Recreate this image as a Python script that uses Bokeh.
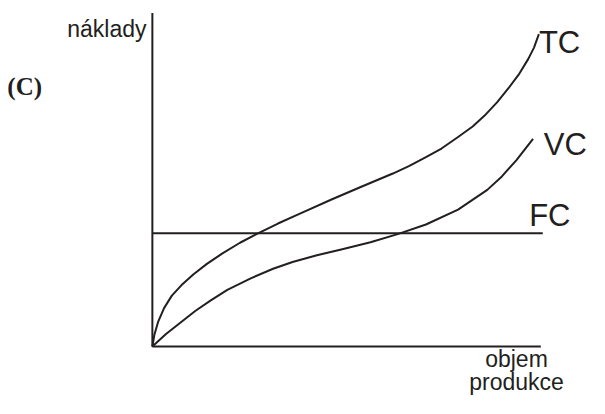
from bokeh.plotting import figure
from bokeh.models import Range1d, Label
from bokeh.embed import file_html
from bokeh.resources import INLINE

# Schematic cost curves (units: arbitrary)
tc_x = [0, 2, 6, 12, 20, 30, 42, 56, 72, 90, 109, 129, 151, 184, 214, 247, 264, 281, 297, 314, 329, 341, 354, 366, 377, 386, 392, 397]
tc_y = [0, 12, 26, 40, 53, 64, 75, 86, 97, 108, 118, 128, 138, 153, 166, 180, 188, 197, 206, 218, 229, 240, 254, 269, 284, 299, 311, 325]

vc_x = [0, 14, 29, 44, 60, 77, 101, 124, 144, 169, 194, 224, 252, 281, 314, 344, 359, 374, 391]
vc_y = [0, 13, 25, 37, 48, 59, 71, 81, 88, 95, 101, 108.5, 117, 127, 142.5, 163, 177, 194, 216]

fc_x = [0, 401]
fc_level = 118

x_axis_end = 399
y_axis_end = 347

labels_text = ["TC", "VC", "FC"]
y_label = "náklady"
x_label_lines = ["objem", "produkce"]
panel_tag = "(C)"

ink = "#231f20"

p = figure(width=589, height=398, output_backend="svg", toolbar_location=None,
           x_range=Range1d(-156, 449), y_range=Range1d(-54, 360),
           min_border=0, min_border_left=0, min_border_right=0,
           min_border_top=0, min_border_bottom=0)
p.axis.visible = False
p.grid.visible = False
p.outline_line_color = None
p.background_fill_color = "white"
p.border_fill_color = "white"

# axes
p.line([0, 0], [0, y_axis_end], line_color=ink, line_width=2)
p.line([0, x_axis_end], [0, 0], line_color=ink, line_width=2)

# curves
p.line(fc_x, [fc_level, fc_level], line_color=ink, line_width=2)
p.line(tc_x, tc_y, line_color=ink, line_width=2, line_join="round")
p.line(vc_x, vc_y, line_color=ink, line_width=2, line_join="round")

def lab(x, y, t, size, align="left", font="Liberation Sans", style="normal"):
    p.add_layout(Label(x=x, y=y, text=t, text_font=font, text_font_size=size,
                       text_align=align, text_baseline="alphabetic",
                       text_color=ink, text_font_style=style))

lab(397, 316, labels_text[0], "31px")
lab(402, 210, labels_text[1], "31px")
lab(387, 136, labels_text[2], "31px")
lab(-6, 330, y_label, "23px", align="right")
lab(374, -13, x_label_lines[0], "23px", align="center")
lab(374, -37, x_label_lines[1], "23px", align="center")
lab(-149, 271, panel_tag, "25px", font="Liberation Serif", style="bold")

open("out.html", "w").write(file_html(p, INLINE))
